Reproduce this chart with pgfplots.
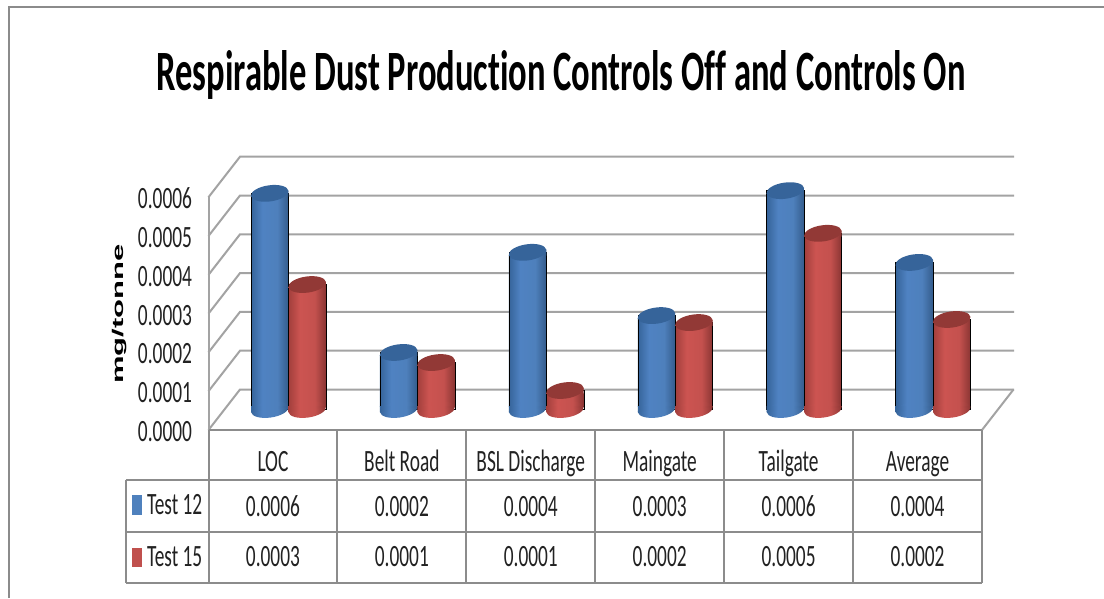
\documentclass[border=0pt]{standalone}
\usepackage{fontspec}
\setmainfont{Carlito}[FakeStretch=0.625,Ligatures=NoCommon]
\newfontfamily\titlefont{Carlito}[FakeStretch=0.606,Ligatures=NoCommon]
\newfontfamily\ylabfont{Liberation Sans}[FakeStretch=2.0]
\usepackage{pgfplots}
\usepackage{pgfplotstable}
\pgfplotsset{compat=1.18}
\definecolor{gridc}{HTML}{A3A3A3}
\definecolor{tabc}{HTML}{8C8C8C}
\definecolor{blkey}{HTML}{4F81BD}
\definecolor{rdkey}{HTML}{C0504D}
\definecolor{txt}{HTML}{222222}
\pgfplotstableread{
idx t12 t15
0 0.000557 0.000322
1 0.000147 0.000121
2 0.000405 0.000049
3 0.000242 0.000224
4 0.000564 0.000454
5 0.000379 0.000232
}\dusttable
\definecolor{b0}{HTML}{36649A}
\definecolor{b1}{HTML}{4F82C2}
\definecolor{b2}{HTML}{4E80BC}
\definecolor{b3}{HTML}{345C8C}
\definecolor{r0}{HTML}{A23F3C}
\definecolor{r1}{HTML}{CC5451}
\definecolor{r2}{HTML}{C4514E}
\definecolor{r3}{HTML}{8A3533}
\pgfdeclarehorizontalshading{bcyl}{100bp}{color(0bp)=(b0);color(25bp)=(b0);color(40bp)=(b1);color(60bp)=(b2);color(75bp)=(b3);color(100bp)=(b3)}
\pgfdeclarehorizontalshading{rcyl}{100bp}{color(0bp)=(r0);color(25bp)=(r0);color(40bp)=(r1);color(60bp)=(r2);color(75bp)=(r3);color(100bp)=(r3)}
\newcommand{\cylellipse}{\pgfpathellipse{\pgfpointorigin}{\pgfqpoint{18.7pt}{2.6pt}}{\pgfqpoint{-1.1pt}{8pt}}}
\newcommand{\toplid}{\pgfpathmoveto{\pgfqpoint{-18.7pt}{-3.3pt}}\pgfpathlineto{\pgfqpoint{18.7pt}{-3.3pt}}\pgfpathlineto{\pgfqpoint{18.7pt}{2.6pt}}\pgfpathlineto{\pgfqpoint{-18.7pt}{-2.6pt}}\pgfpathclose}
\newcommand{\botlid}{\pgfpathmoveto{\pgfqpoint{-18.7pt}{3.3pt}}\pgfpathlineto{\pgfqpoint{18.7pt}{3.3pt}}\pgfpathlineto{\pgfqpoint{18.7pt}{2.6pt}}\pgfpathlineto{\pgfqpoint{-18.7pt}{-2.6pt}}\pgfpathclose}
\pgfdeclareplotmark{captop}{\cylellipse\pgfusepathqfill}
\pgfdeclareplotmark{bluelid}{\toplid\pgfshadepath{bcyl}{0}\pgfusepath{discard}}
\pgfdeclareplotmark{redlid}{\toplid\pgfshadepath{rcyl}{0}\pgfusepath{discard}}
\pgfdeclareplotmark{bluebase}{\cylellipse\pgfshadepath{bcyl}{0}\pgfusepath{discard}\botlid\pgfshadepath{bcyl}{0}\pgfusepath{discard}}
\pgfdeclareplotmark{redbase}{\cylellipse\pgfshadepath{rcyl}{0}\pgfusepath{discard}\botlid\pgfshadepath{rcyl}{0}\pgfusepath{discard}}
\newcommand{\tabcol}[4]{%
  \node[font=\fontsize{31}{32}\selectfont,text=txt,anchor=base] at (axis cs:#1,-0.000108) {#2};
  \node[font=\fontsize{31}{32}\selectfont,text=txt,anchor=base] at (axis cs:#1,-0.000222) {#3};
  \node[font=\fontsize{31}{32}\selectfont,text=txt,anchor=base] at (axis cs:#1,-0.000353) {#4};
}
\newcommand{\onecyl}[8]{%
\addplot[forget plot,only marks,mark=#7,ybar=false,skip coords between index={0}{#1},skip coords between index={#2}{6}] table[x expr=\thisrow{idx}+0.5#4,y expr=0] {\dusttable};
\addplot[forget plot,draw=none,shade,shading=#5,ybar,skip coords between index={0}{#1},skip coords between index={#2}{6}] table[x expr=\thisrow{idx}+0.5#4,y expr=\thisrow{#3}-0.000008] {\dusttable};
\addplot[forget plot,only marks,mark=#6,ybar=false,skip coords between index={0}{#1},skip coords between index={#2}{6}] table[x expr=\thisrow{idx}+0.5#4,y=#3] {\dusttable};
\addplot[forget plot,only marks,mark=captop,mark options={fill=#8,draw=none},ybar=false,skip coords between index={0}{#1},skip coords between index={#2}{6}] table[x expr=\thisrow{idx}+0.5#4,y=#3] {\dusttable};
}
\newcommand{\cylpair}[2]{%
\onecyl{#1}{#2}{t12}{-0.1453}{bcyl}{bluelid}{bluebase}{b0}
\onecyl{#1}{#2}{t15}{+0.1453}{rcyl}{redlid}{redbase}{r0!90!black}
}
\begin{document}
\begin{tikzpicture}[x=1pt,y=1pt]
\useasboundingbox (0,0) rectangle (1104,598);
\fill[white] (0,0) rectangle (1104,598);
\draw[color=gridc!85!black,line width=2.2pt] (9,0) -- (9,591) -- (1104,591);
\node[font=\fontsize{57}{60}\selectfont\titlefont\bfseries,anchor=center] at (561,523) {Respirable Dust Production Controls Off and Controls On};
\node[font=\fontsize{15.5}{16}\selectfont\ylabfont\bfseries,rotate=90,anchor=center] at (120,284) {mg/tonne};
\begin{axis}[
  at={(208.5pt,168pt)},anchor=south west,scale only axis,
  width=773.5pt,height=232.8pt,
  xmin=0,xmax=6,ymin=0,ymax=0.0006,clip=false,
  axis x line=none,
  axis y line*=left,
  axis line style={draw=gridc,line width=2pt},
  y axis line style={-},
  xtick=\empty,
  ytick={0,0.0001,0.0002,0.0003,0.0004,0.0005,0.0006},
  major tick length=0pt,
  scaled y ticks=false,
  yticklabel style={/pgf/number format/fixed,/pgf/number format/fixed zerofill,/pgf/number format/precision=4,/pgf/number format/assume math mode=true,font=\fontsize{31}{32}\selectfont,text=txt,anchor=east,xshift=-13pt,yshift=-2pt,text height=19pt,text depth=0pt},
]
\pgfplotsinvokeforeach{0,0.0001,0.0002,0.0003,0.0004,0.0005,0.0006}{
  \draw[gridc,line width=2pt] (axis cs:0,#1) -- ([xshift=31.5pt,yshift=40.5pt]axis cs:0,#1) -- ([xshift=805.5pt,yshift=40.5pt]axis cs:0,#1);
}
\draw[gridc,line width=2pt] (axis cs:6,0) -- ([xshift=31.5pt,yshift=40.5pt]axis cs:6,0);
\draw[tabc,line width=2.2pt] (axis cs:0,0) -- (axis cs:6,0);
\pgfplotsinvokeforeach{0,1,2,3,4,5,6}{
  \draw[tabc,line width=2pt] (axis cs:#1,0) -- (axis cs:#1,-0.000394);
}
\draw[tabc,line width=2.2pt] (axis cs:-0.64,-0.000129) -- (axis cs:6,-0.000129);
\draw[tabc,line width=2.2pt] (axis cs:-0.64,-0.000263) -- (axis cs:6,-0.000263);
\draw[tabc,line width=2.2pt] (axis cs:-0.64,-0.000394) -- (axis cs:6,-0.000394);
\draw[tabc,line width=2.2pt] (axis cs:-0.64,-0.000129) -- (axis cs:-0.64,-0.000394);
\tabcol{0.5}{LOC}{0.0006}{0.0003}
\tabcol{1.5}{Belt Road}{0.0002}{0.0001}
\tabcol{2.5}{BSL Discharge}{0.0004}{0.0001}
\tabcol{3.5}{Maingate}{0.0003}{0.0002}
\tabcol{4.5}{Tailgate}{0.0006}{0.0005}
\tabcol{5.5}{Average}{0.0004}{0.0002}
\fill[blkey] ([xshift=-76.5pt]axis cs:0,-0.000168) rectangle ([xshift=-66.5pt]axis cs:0,-0.000220);
\fill[rdkey] ([xshift=-76.5pt]axis cs:0,-0.000305) rectangle ([xshift=-66.5pt]axis cs:0,-0.000352);
\node[font=\fontsize{31}{32}\selectfont,text=txt,anchor=base west] at ([xshift=-65pt]axis cs:0,-0.000219) {Test 12};
\node[font=\fontsize{31}{32}\selectfont,text=txt,anchor=base west] at ([xshift=-65pt]axis cs:0,-0.000353) {Test 15};
\end{axis}
\begin{axis}[
  at={(224pt,191.6pt)},anchor=south west,scale only axis,
  width=773.5pt,height=229.72pt,
  xmin=0,xmax=6,ymin=0.000008,ymax=0.0006,clip=false,
  hide axis,
  ybar,
  bar width=37.4pt,
  bar shift=0pt,
]
\cylpair{0}{1}
\cylpair{1}{2}
\cylpair{2}{3}
\cylpair{3}{4}
\cylpair{4}{5}
\cylpair{5}{6}
\end{axis}
\end{tikzpicture}
\end{document}
